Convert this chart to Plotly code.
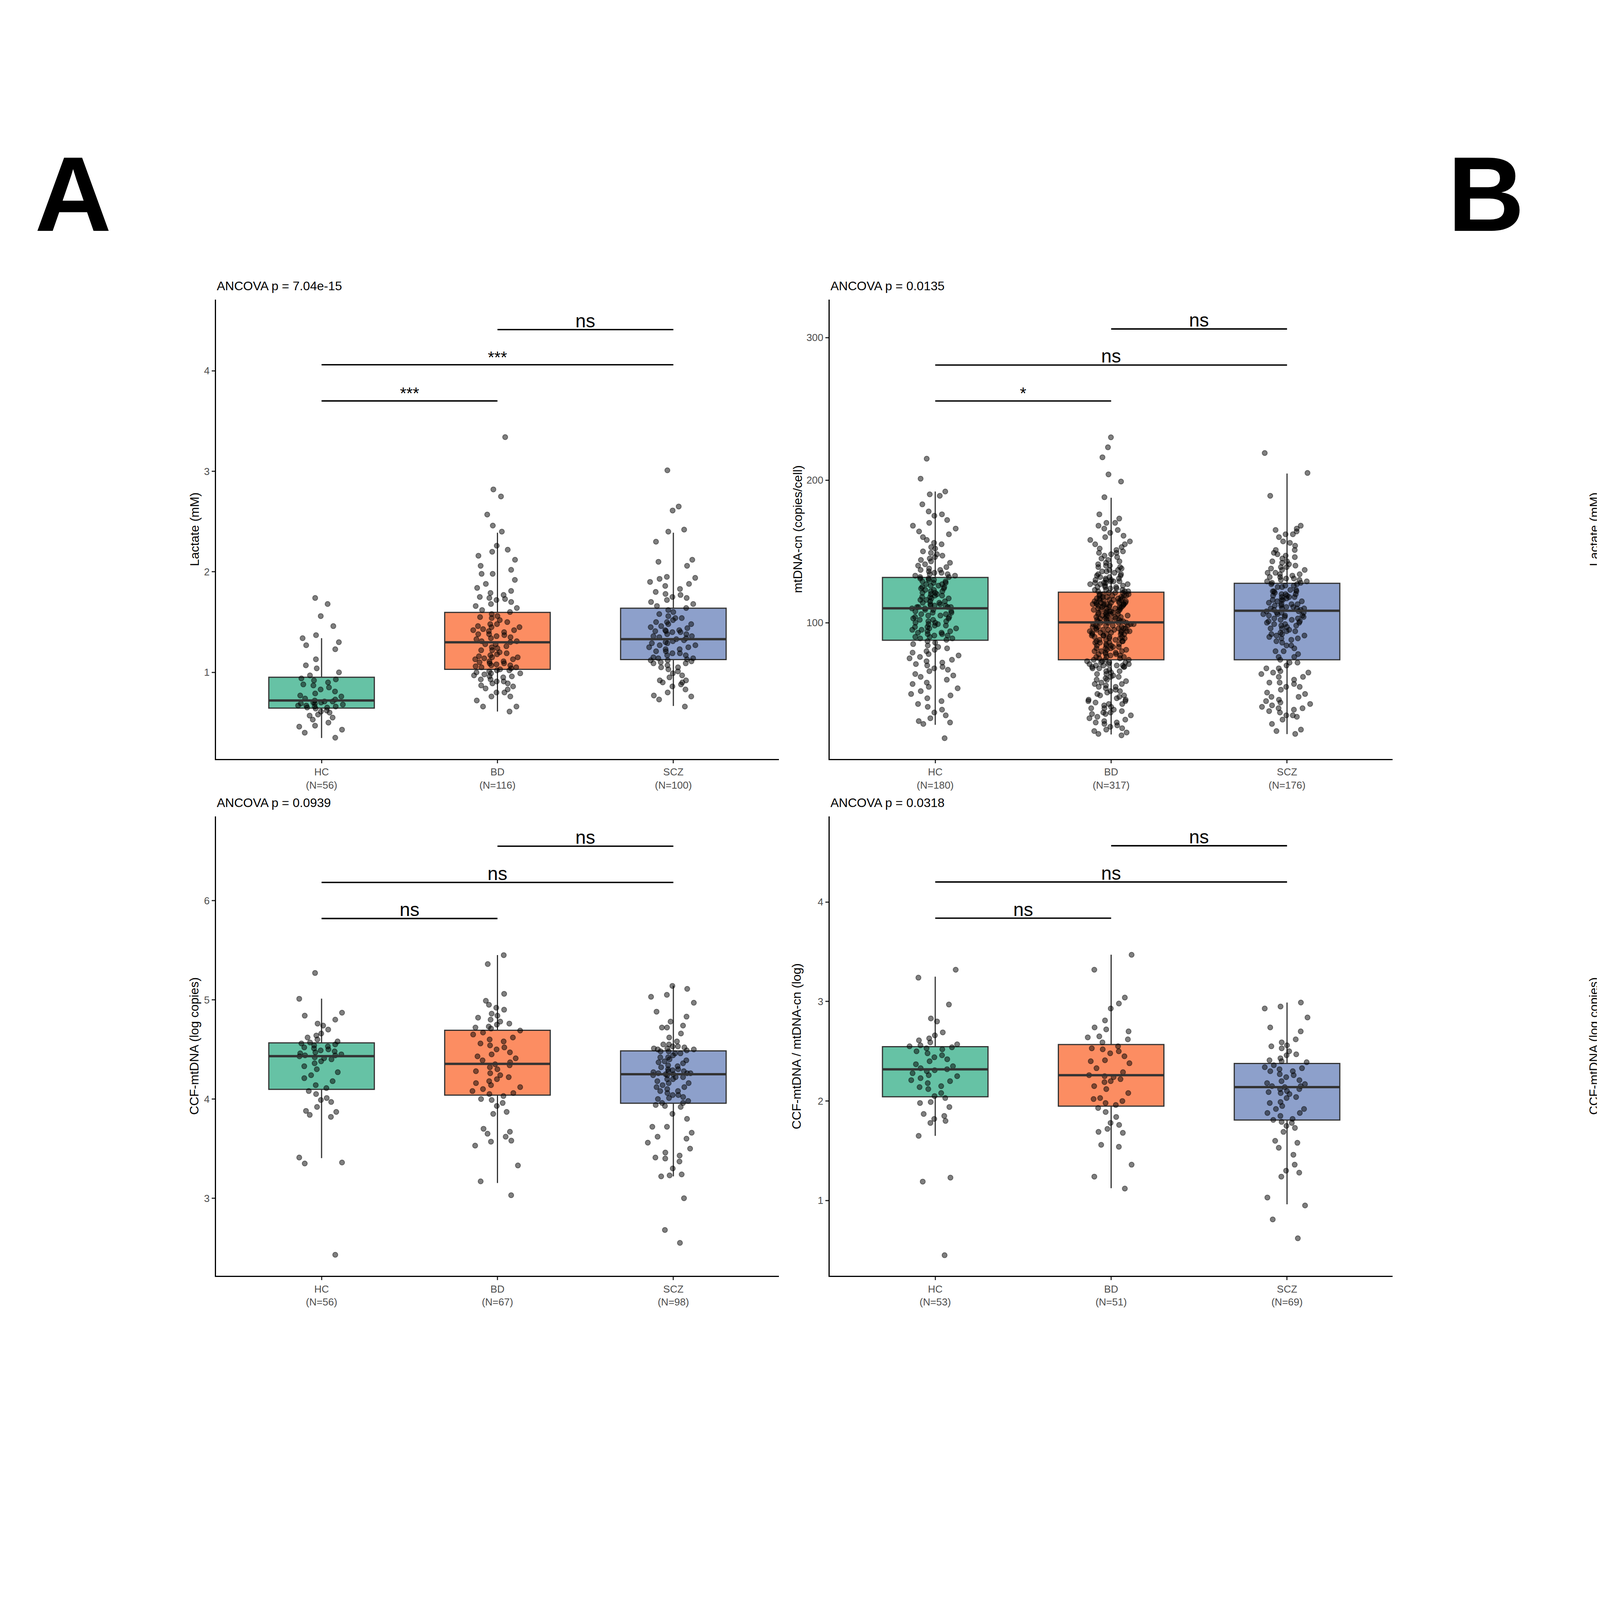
import plotly.graph_objects as go

# Lactate (mM)
lac_hc = [1.74, 1.68, 1.56, 1.46, 1.37, 1.34, 1.30, 1.27, 1.23, 1.13, 1.07, 1.04, 1.00, 0.97,
          0.94, 0.93, 0.92, 0.90, 0.88, 0.87, 0.85, 0.83, 0.81, 0.79, 0.77, 0.76, 0.74, 0.73,
          0.72, 0.71, 0.71, 0.70, 0.70, 0.69, 0.69, 0.68, 0.67, 0.67, 0.66, 0.66, 0.65, 0.65,
          0.64, 0.62, 0.61, 0.60, 0.58, 0.57, 0.55, 0.53, 0.50, 0.47, 0.46, 0.43, 0.40, 0.35]
lac_bd_acute = [3.34, 2.75, 2.57, 2.22, 2.20, 2.16, 2.12, 2.06, 2.02, 1.98, 1.92, 1.88, 1.84, 1.81, 1.79, 1.77, 1.75,
                1.74, 1.72, 1.70, 1.66, 1.64, 1.62, 1.60, 1.58, 1.56, 1.54, 1.52, 1.50, 1.48, 1.46, 1.45, 1.43, 1.42,
                1.41, 1.40, 1.38, 1.37, 1.35, 1.33, 1.31, 1.30, 1.28, 1.26, 1.24, 1.22, 1.20, 1.18, 1.16, 1.15, 1.14,
                1.13, 1.11, 1.09, 1.07, 1.05, 1.02, 0.99, 0.96, 0.93, 0.91, 0.89, 0.86, 0.83, 0.80, 0.76, 0.72, 0.66]
lac_bd_stable = [2.82, 2.46, 2.40, 2.26, 1.98, 1.73, 1.68, 1.55, 1.48, 1.45, 1.42, 1.38,
                 1.36, 1.34, 1.31, 1.28, 1.25, 1.22, 1.19, 1.17, 1.15, 1.13, 1.11, 1.10,
                 1.09, 1.08, 1.07, 1.06, 1.05, 1.04, 1.03, 1.02, 1.01, 1.00, 0.99, 0.98,
                 0.97, 0.96, 0.95, 0.93, 0.91, 0.89, 0.87, 0.84, 0.80, 0.76, 0.66, 0.61]
lac_scz_acute = [3.01, 2.65, 2.42, 2.40, 2.30, 2.12, 2.10, 2.06, 1.95, 1.93, 1.90, 1.88, 1.86, 1.83, 1.80, 1.78, 1.77,
                 1.75, 1.74, 1.72, 1.70, 1.68, 1.66, 1.64, 1.62, 1.60, 1.58, 1.56, 1.54, 1.52, 1.50, 1.48, 1.46, 1.44, 1.42,
                 1.41, 1.40, 1.38, 1.36, 1.35, 1.33, 1.31, 1.29, 1.27, 1.25, 1.23, 1.21, 1.19, 1.17, 1.15, 1.14, 1.13,
                 1.12, 1.10, 1.09, 1.07, 1.05, 1.03, 1.01, 0.99, 0.97, 0.95, 0.92, 0.90, 0.88, 0.86, 0.83, 0.80, 0.76, 0.73]
lac_scz_stable = [2.61, 1.94, 1.54, 1.50, 1.48, 1.45, 1.42, 1.41, 1.40, 1.38, 1.36, 1.34, 1.32, 1.30, 1.29,
                  1.27, 1.25, 1.23, 1.21, 1.19, 1.17, 1.14, 1.12, 1.11, 1.09, 1.05, 0.92, 0.90, 0.77, 0.66]

# mtDNA-cn (copies/cell)
mt_hc = [215, 201, 192, 190, 189, 183, 178, 176, 175, 172, 170, 168, 166, 164, 162, 160, 158, 156, 155, 153,
         152, 150, 149, 148, 147, 146, 145, 144, 143, 142, 141, 140, 139, 138, 137, 137, 136, 135, 135, 134,
         134, 133, 133, 132, 132,
         131, 131, 130, 130, 129, 129, 128, 128, 127, 127, 126, 126, 125, 125, 124, 124, 123, 123, 122, 122,
         121, 121, 120, 120, 119, 119, 118, 118, 117, 117, 116, 116, 115, 115, 114, 114, 113, 113, 112, 112,
         112, 111, 111, 111, 111,
         110, 110, 109, 109, 108, 108, 107, 107, 106, 106, 105, 105, 104, 104, 103, 103, 102, 102, 101, 101,
         100, 100, 99, 99, 98, 98, 97, 97, 96, 96, 95, 95, 94, 94, 93, 93, 92, 92, 91, 91, 90, 90, 89, 89, 88,
         87, 86, 85, 84, 83, 82, 81, 80, 79, 78, 77, 76, 75, 74, 73, 72, 71, 70, 69, 68, 67, 66, 64, 63, 62,
         60, 58, 57, 55, 54, 52, 50, 49, 47, 45, 43, 41, 39, 37, 35, 33, 31, 30, 29, 19]
mt_bd_acute = [223, 216, 199, 188, 176, 173, 170, 166, 163, 161, 158, 155, 152, 150, 149, 148, 146, 144, 142, 140,
               139, 137, 136, 134, 133, 131, 130, 129, 128, 127, 126, 125, 124, 123, 122, 122, 121, 120, 120, 119,
               119, 118, 118, 117, 117, 116, 116, 116, 115,
               114, 114, 113, 113, 112, 112, 111, 111, 110, 110, 109, 109, 108, 108, 107, 107, 106, 106, 105, 105,
               104, 104, 103, 103, 102, 102, 101, 101, 100, 100, 99, 99, 98, 98, 97, 97, 96, 96, 95, 95,
               95, 94, 94, 94, 93, 93, 93, 92, 92, 92,
               91, 91, 90, 90, 89, 89, 88, 88, 87, 87, 86, 86, 85, 85, 84, 84, 83, 83, 82, 82,
               81, 81, 80, 80, 79, 79, 78, 78, 77, 77, 76, 76, 75, 75, 74, 74, 73, 73, 72, 72,
               71, 71, 71, 70, 70, 70, 69, 69, 69, 68,
               67, 66, 65, 64, 63, 62, 61, 60, 59, 58, 57, 56, 55, 54, 53, 52, 51, 50, 49, 48,
               47, 46, 45, 44, 43, 42, 41, 40, 39, 38, 37, 37, 36, 36, 35, 34, 33, 32, 31, 30,
               29, 28, 27, 26, 25, 24, 23, 22, 21]
mt_bd_stable = [230, 204, 170, 168, 165, 160, 157, 155, 153, 151, 149, 147, 145, 143, 141, 140, 139, 138, 137, 136,
                135, 134, 133, 132, 132, 131, 130, 130, 129, 129,
                128, 128, 127, 127, 126, 125, 125, 124, 123, 123, 122, 121, 121, 120, 119, 119, 118, 117, 117, 116,
                116, 115, 115, 114, 114, 114, 113, 113, 113, 113,
                112, 112, 111, 111, 110, 110, 109, 108, 108, 107, 106, 106, 105, 104, 104, 103, 102, 102, 101, 100,
                100, 99, 98, 98, 97, 96, 96, 95, 94,
                93, 92, 91, 90, 89, 88, 87, 86, 84, 82, 80, 78, 76, 74, 72, 70, 68, 66, 64, 62,
                60, 57, 55, 52, 49, 46, 45, 43, 40, 30]
mt_scz_acute = [219, 205, 168, 166, 162, 160, 157, 154, 151, 149, 147, 145, 143, 141, 139, 137, 135, 134, 132, 131,
                130, 129, 128, 127, 126, 125,
                123, 122, 122, 121, 120, 120, 119, 118, 118, 117, 116, 116, 115, 114, 113, 113, 112, 111, 110, 110,
                109, 108, 107, 107, 106, 105, 105,
                104, 103, 102, 101, 100, 99, 98, 97, 96, 95, 94, 92, 91, 90, 89, 87, 86, 84, 82, 80,
                78, 76, 74, 72, 70, 68, 66,
                65, 64, 62, 60, 58, 57, 55, 53, 51, 50, 48, 46, 45, 44, 43, 42, 41, 40, 39, 38,
                37, 35, 34, 32, 29, 25]
mt_scz_stable = [189, 165, 164, 162, 156, 151, 148, 146, 143, 142, 140, 139, 138, 137, 135, 134, 133,
                 132, 131, 130, 129, 128, 127, 126, 125, 123, 122, 120, 119, 118, 116, 115, 113, 112, 111,
                 110, 110, 109, 108, 107, 106, 105, 104, 103, 102, 101, 100, 99, 98, 96, 94, 93,
                 92, 91, 89, 88, 84, 80, 76, 72, 68, 65, 62, 58, 55, 48, 40, 35, 24, 22]

# CCF-mtDNA (log copies)
ccf_hc = [5.27, 5.01, 4.87, 4.84, 4.80, 4.76, 4.74, 4.70, 4.66, 4.64, 4.62, 4.60, 4.58, 4.57,
          4.56, 4.55, 4.54, 4.53, 4.52, 4.51, 4.50, 4.49, 4.48, 4.47, 4.46, 4.45, 4.44, 4.44,
          4.43, 4.42, 4.41, 4.40, 4.38, 4.36, 4.33, 4.30, 4.27, 4.24, 4.21, 4.18, 4.14, 4.11,
          4.08, 4.05, 4.01, 3.99, 3.97, 3.92, 3.88, 3.87, 3.84, 3.82, 3.41, 3.36, 3.35, 2.43]
ccf_bd_acute = [5.45, 5.36, 5.06, 4.99, 4.95, 4.92, 4.90, 4.86, 4.84, 4.82, 4.80, 4.78, 4.76, 4.75, 4.73, 4.72, 4.71,
                4.69, 4.67, 4.65, 4.62, 4.60, 4.58, 4.56, 4.54, 4.52, 4.50, 4.47, 4.45, 4.43, 4.41, 4.39, 4.37,
                4.35, 4.34, 4.32, 4.30, 4.28, 4.26, 4.24, 4.22, 4.20, 4.18, 4.16, 4.14, 4.12, 4.10, 4.08, 4.06, 4.05,
                4.03, 4.00, 3.99, 3.96, 3.93, 3.87, 3.85, 3.70, 3.67, 3.65, 3.62, 3.58, 3.57, 3.53, 3.33, 3.17, 3.03]
ccf_scz_acute = [5.14, 5.11, 5.05, 5.03, 4.97, 4.88, 4.83, 4.78, 4.72, 4.66, 4.62, 4.58, 4.55, 4.53, 4.52, 4.51, 4.51,
                 4.50, 4.49, 4.48, 4.46, 4.44, 4.42, 4.40, 4.38, 4.36, 4.34, 4.32, 4.30, 4.29, 4.28, 4.27, 4.26, 4.26,
                 4.25, 4.24, 4.22, 4.20, 4.18, 4.16, 4.14, 4.12, 4.10, 4.08, 4.06, 4.04, 4.02, 4.00, 3.98, 3.96, 3.94,
                 3.92, 3.85, 3.80, 3.72, 3.66, 3.60, 3.56, 3.50, 3.46, 3.43, 3.40, 3.30, 3.24, 3.23, 3.00, 2.68, 2.55]
ccf_scz_stable = [4.74, 4.72, 4.55, 4.53, 4.50, 4.48, 4.46, 4.42, 4.39, 4.37, 4.33, 4.30, 4.28, 4.26, 4.25,
                  4.24, 4.22, 4.20, 4.16, 4.12, 4.08, 4.04, 4.01, 3.96, 3.93, 3.72, 3.62, 3.41, 3.37, 3.22]

# CCF-mtDNA / mtDNA-cn (log)
rat_hc = [3.32, 3.24, 2.97, 2.83, 2.80, 2.69, 2.66, 2.63, 2.61, 2.59, 2.57, 2.56, 2.55,
          2.54, 2.53, 2.52, 2.50, 2.48, 2.46, 2.44, 2.42, 2.40, 2.37, 2.35, 2.33, 2.32,
          2.31, 2.30, 2.28, 2.26, 2.25, 2.23, 2.21, 2.20, 2.18, 2.15, 2.14, 2.12, 2.08, 2.05,
          2.03, 1.99, 1.98, 1.94, 1.87, 1.85, 1.82, 1.80, 1.78, 1.65, 1.23, 1.19, 0.45]
rat_bd_acute = [3.47, 3.32, 3.04, 2.98, 2.93, 2.81, 2.74, 2.72, 2.70, 2.65, 2.64, 2.62, 2.59,
                2.55, 2.53, 2.52, 2.50, 2.48, 2.45, 2.41, 2.40, 2.38, 2.33, 2.29, 2.26,
                2.25, 2.24, 2.22, 2.20, 2.19, 2.15, 2.12, 2.08, 2.03, 2.02, 2.00, 1.98, 1.96,
                1.93, 1.89, 1.84, 1.78, 1.76, 1.72, 1.69, 1.68, 1.56, 1.54, 1.36, 1.24, 1.12]
rat_scz_acute = [2.99, 2.95, 2.93, 2.84, 2.74, 2.70, 2.62, 2.55, 2.50, 2.46, 2.43,
                 2.41, 2.39, 2.36, 2.33, 2.30, 2.26, 2.21, 2.18, 2.15, 2.12, 2.10,
                 2.09, 2.07, 2.03, 1.99, 1.95, 1.92, 1.88, 1.85, 1.81, 1.79, 1.78,
                 1.75, 1.73, 1.60, 1.53, 1.46, 1.36, 1.24, 1.03, 0.95, 0.81, 0.62]
rat_scz_stable = [2.59, 2.56, 2.53, 2.47, 2.40, 2.34, 2.32, 2.30, 2.27, 2.24, 2.20, 2.17,
                  2.15, 2.14, 2.12, 2.08, 2.04, 1.98, 1.92, 1.88, 1.82, 1.69, 1.58, 1.30, 1.28]

# group labels and sample sizes
cats_a = ['HC', 'BD', 'SCZ']
cats_b1 = ['HC', 'BD_Acute', 'BD_Stable', 'SCZ_Acute', 'SCZ_Stable']
cats_b3 = ['HC', 'BD_Acute', 'SCZ_Acute', 'SCZ_Stable']
n_a1 = [56, 116, 100]
n_a2 = [180, 317, 176]
n_a3 = [56, 67, 98]
n_a4 = [53, 51, 69]
n_b1 = [56, 68, 48, 70, 30]
n_b2 = [180, 198, 119, 106, 70]
n_b3 = [56, 67, 68, 30]
n_b4 = [53, 51, 44, 25]

# box statistics: q1, median, q3, lower whisker, upper whisker
stats_a1 = [(0.644, 0.72, 0.951, 0.347, 1.34), (1.03, 1.299, 1.596, 0.61, 2.389), (1.127, 1.33, 1.638, 0.666, 2.389)]
stats_a2 = [(87.7, 110.1, 131.7, 28.4, 192), (74.0, 100.2, 121.4, 21.6, 187.6), (74.0, 108.4, 127.6, 21.9, 204.6)]
stats_a3 = [(4.097, 4.432, 4.566, 3.404, 5.012), (4.039, 4.354, 4.693, 3.153, 5.451), (3.957, 4.25, 4.485, 3.22, 5.142)]
stats_a4 = [(2.043, 2.319, 2.546, 1.65, 3.25), (1.948, 2.26, 2.568, 1.124, 3.471), (1.809, 2.14, 2.377, 0.962, 2.99)]
stats_b1 = [(0.642, 0.732, 0.952, 0.349, 1.323), (1.137, 1.413, 1.745, 0.664, 2.573), (0.974, 1.092, 1.363, 0.608, 1.734),
            (1.126, 1.419, 1.762, 0.73, 2.646), (1.116, 1.278, 1.406, 0.768, 1.542)]
stats_b2 = [(87.8, 110.5, 131.6, 29.4, 192), (68, 92.2, 115.3, 22.3, 176), (93.8, 112.5, 128.8, 43, 170.5),
            (65.6, 104.5, 123.6, 25.4, 204.7), (92.2, 110.9, 132.8, 35.4, 189.2)]
stats_b3 = [(4.10, 4.436, 4.568, 3.414, 5.008), (4.045, 4.36, 4.70, 3.169, 5.45), (3.936, 4.259, 4.504, 3.237, 5.14),
            (4.023, 4.245, 4.395, 3.723, 4.736)]
stats_b4 = [(2.041, 2.317, 2.544, 1.651, 3.243), (1.946, 2.254, 2.571, 1.12, 3.474), (1.773, 2.095, 2.417, 0.812, 2.989),
            (1.887, 2.15, 2.327, 1.283, 2.59)]

# pairwise comparisons: (group i, group j, bracket height, label)
br_a1 = [(0, 1, 3.70, '***'), (0, 2, 4.06, '***'), (1, 2, 4.41, 'ns')]
br_a2 = [(0, 1, 255.5, '*'), (0, 2, 280.7, 'ns'), (1, 2, 306, 'ns')]
br_a3 = [(0, 1, 5.819, 'ns'), (0, 2, 6.183, 'ns'), (1, 2, 6.548, 'ns')]
br_a4 = [(0, 1, 3.838, 'ns'), (0, 2, 4.202, 'ns'), (1, 2, 4.566, 'ns')]
br_b1 = [(0, 1, 4.054, '***'), (0, 2, 4.414, '***'), (0, 3, 4.775, '***'), (0, 4, 5.13, '***'), (1, 2, 5.49, '*'),
         (1, 3, 5.845, 'ns'), (1, 4, 6.205, 'ns'), (2, 3, 6.565, '*'), (2, 4, 6.926, 'ns'), (3, 4, 7.28, 'ns')]
br_b2 = [(0, 1, 280.6, '***'), (0, 2, 306, 'ns'), (0, 3, 331.5, 'ns'), (0, 4, 356.5, 'ns'), (1, 2, 382, '**'),
         (1, 3, 407, 'ns'), (1, 4, 432.4, 'ns'), (2, 3, 458, 'ns'), (2, 4, 483.3, 'ns'), (3, 4, 508.3, 'ns')]
br_b3 = [(0, 1, 6.184, 'ns'), (0, 2, 6.548, 'ns'), (0, 3, 6.911, 'ns'), (1, 2, 7.274, 'ns'), (1, 3, 7.638, 'ns'),
         (2, 3, 8.0, 'ns')]
br_b4 = [(0, 1, 4.2, 'ns'), (0, 2, 4.562, 'ns'), (0, 3, 4.925, 'ns'), (1, 2, 5.288, 'ns'), (1, 3, 5.651, 'ns'),
         (2, 3, 6.014, 'ns')]

pvals = ['7.04e-15', '0.0135', '0.0939', '0.0318', '5.09e-16', '6.09e-05', '0.183', '0.0733']

SET2 = ['#66C2A5', '#FC8D62', '#8DA0CB']
SET1_5 = ['#66C2A5', '#E41A1C', '#FF7F00', '#377EB8', '#984EA3']
SET1_4 = ['#66C2A5', '#E41A1C', '#377EB8', '#984EA3']

panels = [
    dict(cats=cats_a, n=n_a1, colors=SET2, stats=stats_a1, br=br_a1, yrange=[0.138, 4.707], yticks=[1, 2, 3, 4],
         ytitle='Lactate (mM)',
         values=[lac_hc, lac_bd_acute + lac_bd_stable, lac_scz_acute + lac_scz_stable]),
    dict(cats=cats_a, n=n_a2, colors=SET2, stats=stats_a2, br=br_a2, yrange=[4.4, 326.5], yticks=[100, 200, 300],
         ytitle='mtDNA-cn (copies/cell)',
         values=[mt_hc, mt_bd_acute + mt_bd_stable, mt_scz_acute + mt_scz_stable]),
    dict(cats=cats_a, n=n_a3, colors=SET2, stats=stats_a3, br=br_a3, yrange=[2.217, 6.85], yticks=[3, 4, 5, 6],
         ytitle='CCF-mtDNA (log copies)',
         values=[ccf_hc, ccf_bd_acute, ccf_scz_acute + ccf_scz_stable]),
    dict(cats=cats_a, n=n_a4, colors=SET2, stats=stats_a4, br=br_a4, yrange=[0.242, 4.863], yticks=[1, 2, 3, 4],
         ytitle='CCF-mtDNA / mtDNA-cn (log)',
         values=[rat_hc, rat_bd_acute, rat_scz_acute + rat_scz_stable]),
    dict(cats=cats_b1, n=n_b1, colors=SET1_5, stats=stats_b1, br=br_b1, yrange=[0.0, 7.71], yticks=[0, 2, 4, 6],
         ytitle='Lactate (mM)',
         values=[lac_hc, lac_bd_acute, lac_bd_stable, lac_scz_acute, lac_scz_stable]),
    dict(cats=cats_b1, n=n_b2, colors=SET1_5, stats=stats_b2, br=br_b2, yrange=[-5.6, 539],
         yticks=[0, 100, 200, 300, 400, 500], ytitle='mtDNA-cn (copies/cell)',
         values=[mt_hc, mt_bd_acute, mt_bd_stable, mt_scz_acute, mt_scz_stable]),
    dict(cats=cats_b3, n=n_b3, colors=SET1_4, stats=stats_b3, br=br_b3, yrange=[2.147, 8.373], yticks=[4, 6, 8],
         ytitle='CCF-mtDNA (log copies)',
         values=[ccf_hc, ccf_bd_acute, ccf_scz_acute, ccf_scz_stable]),
    dict(cats=cats_b3, n=n_b4, colors=SET1_4, stats=stats_b4, br=br_b4, yrange=[0.168, 6.385], yticks=[2, 4, 6],
         ytitle='CCF-mtDNA / mtDNA-cn (log)',
         values=[rat_hc, rat_bd_acute, rat_scz_acute, rat_scz_stable]),
]

# ---------------- layout geometry (pixels) ----------------
W, H = 7219, 4200
FONT = 'Liberation Sans, Arial, sans-serif'
frames = [(545, 1986, 762, 1942), (2116, 3557, 762, 1942), (545, 1986, 2089, 3270), (2116, 3557, 2089, 3270),
          (4128, 5585, 762, 1942), (5717, 7174, 762, 1942), (4128, 5585, 2089, 3270), (5717, 7174, 2089, 3270)]
ytitle_x = [490, 2034, 489, 2031, 4073, 5634, 4072, 5632]


def fx(px):
    return px / W


def fy(py):
    return 1 - py / H


def point_groups(vals, st):
    # split a group's points into value bands so that plotly's density-scaled
    # jitter spreads the sparse tails about as wide as the core (like geom_jitter)
    q1, med, q3, lo, hi = st
    if len(vals) < 35:
        cuts = [(lo + q1) / 2, (q3 + hi) / 2]
    elif len(vals) < 90:
        cuts = [(lo + q1) / 2, med, (q3 + hi) / 2]
    else:
        cuts = [(lo + q1) / 2, q1, med, q3, (q3 + hi) / 2]
    segs = [[] for _ in range(len(cuts) + 1)]
    for v in vals:
        segs[sum(v > c for c in cuts)].append(v)
    last = len(segs) - 1
    mid = last // 2
    for a in list(range(0, mid)) + list(range(last, mid, -1)):
        if 0 < len(segs[a]) < 3:
            b = a + 1 if a < mid else a - 1
            segs[b] += segs[a]
            segs[a] = []
    return [s for s in segs if s]


fig = go.Figure()
annotations = []
layout_axes = {}

for k, p in enumerate(panels, start=1):
    xa = 'x' if k == 1 else f'x{k}'
    ya = 'y' if k == 1 else f'y{k}'
    left, right, top, bottom = frames[k - 1]
    is_b = k > 4
    ng = len(p['cats'])

    # boxes
    for i, (st, col) in enumerate(zip(p['stats'], p['colors'])):
        q1, med, q3, lo, hi = st
        fig.add_trace(go.Box(
            x=[i], q1=[q1], median=[med], q3=[q3], lowerfence=[lo], upperfence=[hi],
            width=0.6, fillcolor=col, line=dict(color='#333333', width=3), whiskerwidth=0,
            boxpoints=False, xaxis=xa, yaxis=ya, showlegend=False, hoverinfo='skip'))

    # thicker median bars
    mx, my = [], []
    for i, st in enumerate(p['stats']):
        mx += [i - 0.3, i + 0.3, None]
        my += [st[1], st[1], None]
    fig.add_trace(go.Scatter(x=mx, y=my, mode='lines', line=dict(color='#333333', width=6),
                             xaxis=xa, yaxis=ya, showlegend=False, hoverinfo='skip'))

    # jittered points
    for i, (vals, st) in enumerate(zip(p['values'], p['stats'])):
        for seg in point_groups(vals, st):
            fig.add_trace(go.Box(
                x=[i] * len(seg), y=seg, width=0.6, boxpoints='all', jitter=0.5, pointpos=0,
                fillcolor='rgba(0,0,0,0)', line=dict(color='rgba(0,0,0,0)', width=0),
                marker=dict(color='rgba(0,0,0,0.5)', size=13,
                            line=dict(color='rgba(0,0,0,0.45)', width=2)),
                xaxis=xa, yaxis=ya, showlegend=False, hoverinfo='skip'))

    # significance brackets
    bx, by = [], []
    for i, j, yv, lab in p['br']:
        bx += [i, j, None]
        by += [yv, yv, None]
        if is_b:
            size = 40 if lab == 'ns' else 36
            shift = -9
        else:
            size = 48 if lab == 'ns' else 42
            shift = -6
        annotations.append(dict(xref=xa, yref=ya, x=(i + j) / 2, y=yv, text=lab, showarrow=False,
                                yanchor='bottom', xanchor='center', yshift=shift,
                                font=dict(family=FONT, size=size, color='black')))
    fig.add_trace(go.Scatter(x=bx, y=by, mode='lines',
                             line=dict(color='black', width=2.6 if is_b else 3.6),
                             xaxis=xa, yaxis=ya, showlegend=False, hoverinfo='skip'))

    ticktext = [f'{c}<br>(N={n})' for c, n in zip(p['cats'], p['n'])]
    axis_common = dict(showline=True, linecolor='black', linewidth=3, ticks='outside', ticklen=8,
                       tickwidth=3, tickcolor='#333333', showgrid=False, zeroline=False,
                       tickfont=dict(family=FONT, size=26, color='#4D4D4D'))
    layout_axes['xaxis' if k == 1 else f'xaxis{k}'] = dict(
        axis_common, domain=[fx(left), fx(right)], anchor=ya, range=[-0.6, ng - 0.4],
        tickmode='array', tickvals=list(range(ng)), ticktext=ticktext)
    layout_axes['yaxis' if k == 1 else f'yaxis{k}'] = dict(
        axis_common, domain=[fy(bottom), fy(top)], anchor=xa, range=p['yrange'],
        tickmode='array', tickvals=p['yticks'])

    # panel title
    annotations.append(dict(xref='paper', yref='paper', x=fx(left), y=fy(top - 35),
                            text=f'ANCOVA p = {pvals[k - 1]}', showarrow=False,
                            xanchor='left', yanchor='middle',
                            font=dict(family=FONT, size=32, color='black')))
    # y axis title
    annotations.append(dict(xref='paper', yref='paper', x=fx(ytitle_x[k - 1]), y=fy((top + bottom) / 2),
                            text=p['ytitle'], showarrow=False, textangle=-90,
                            xanchor='center', yanchor='middle',
                            font=dict(family=FONT, size=32, color='black')))

# panel letters
for letter, lx in (('A', 79), ('B', 3696)):
    annotations.append(dict(xref='paper', yref='paper', x=fx(lx), y=fy(491), text=f'<b>{letter}</b>',
                            showarrow=False, xanchor='left', yanchor='middle',
                            font=dict(family=FONT, size=272, color='black')))

fig.update_layout(
    width=W, height=H, autosize=False,
    margin=dict(l=0, r=0, t=0, b=0),
    paper_bgcolor='white', plot_bgcolor='white',
    boxmode='overlay', showlegend=False,
    font=dict(family=FONT),
    annotations=annotations,
    **layout_axes
)

fig.write_html('out.html')
